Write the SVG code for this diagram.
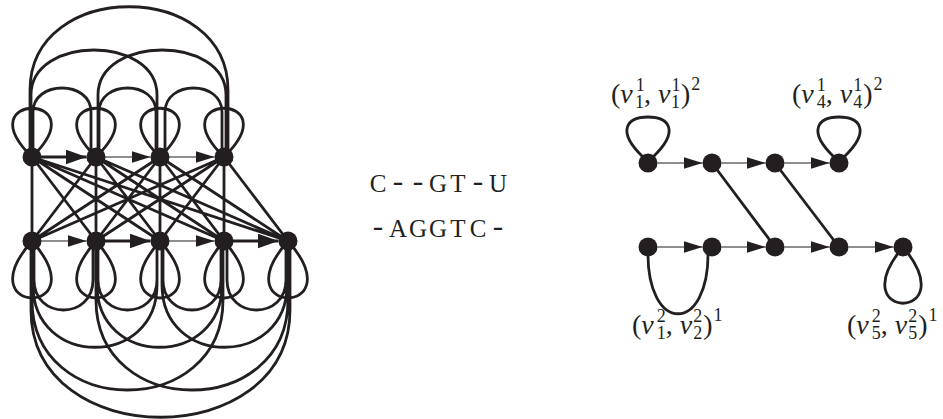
<svg xmlns="http://www.w3.org/2000/svg" width="943" height="419" viewBox="0 0 943 419">
<style>
.e{fill:none;stroke:#231f20;stroke-width:2.8}
.t{fill:none;stroke:#231f20;stroke-width:1.2}
.tk{fill:none;stroke:#231f20;stroke-width:2.8}
.n{fill:#231f20}
.m{font-family:"Liberation Serif","Times New Roman",serif;font-size:28px;fill:#231f20}
.i{font-style:italic}
.s{font-size:18px}
.seq{font-family:"Liberation Serif","Times New Roman",serif;font-size:25px;fill:#231f20;text-anchor:middle}
.d{font-family:"Liberation Mono","Courier New",monospace;font-size:30px}
</style>
<defs>
<marker id="ah" markerUnits="userSpaceOnUse" markerWidth="20" markerHeight="13" refX="19" refY="6" orient="auto"><path d="M0,0 L19,6 L0,12 z" fill="#231f20"/></marker>
<marker id="ahb" markerUnits="userSpaceOnUse" markerWidth="23" markerHeight="16" refX="21" refY="7.5" orient="auto"><path d="M0,0 L21,7.5 L0,15 z" fill="#231f20"/></marker>
</defs>
<g id="left-connectors">
<path class="e" d="M32,157 C-35,92 99,92 32,157 M96,157 C29,92 163,92 96,157 M160,157 C93,92 227,92 160,157 M224,157 C157,92 291,92 224,157"/>
<path class="e" d="M33,157 V112 C33,80 91,80 91,112 V157 M99,157 V112 C99,80 156,80 156,112 V157 M165,157 V112 C165,80 222,80 222,112 V157 M31,157 V95 C31,35 157,35 157,95 V157 M98,157 V95 C98,35 226,35 226,95 V157 M30,157 V90 C30,-21 228,-21 228,90 V157"/>
<path class="e" d="M32,157 L32,241 M32,157 L96,241 M32,157 L160,241 M32,157 L224,241 M32,157 L288,241 M96,157 L32,241 M96,157 L96,241 M96,157 L160,241 M96,157 L224,241 M96,157 L288,241 M160,157 L32,241 M160,157 L96,241 M160,157 L160,241 M160,157 L224,241 M160,157 L288,241 M224,157 L32,241 M224,157 L96,241 M224,157 L160,241 M224,157 L224,241 M224,157 L288,241"/>
<path class="e" d="M32,241 C-35,317 99,317 32,241 M96,241 C29,317 163,317 96,241 M160,241 C93,317 227,317 160,241 M224,241 C157,317 291,317 224,241 M288,241 C221,317 355,317 288,241"/>
<path class="e" d="M34,241 V280 C34,320 93,320 93,280 V241 M98,241 V280 C98,320 157,320 157,280 V241 M163,241 V280 C163,320 221,320 221,280 V241 M227,241 V280 C227,320 286,320 286,280 V241 M33,241 V285 C33,368 157,368 157,285 V241 M97,241 V285 C97,368 222,368 222,285 V241 M162,241 V285 C162,368 287,368 287,285 V241 M32,241 V300 C32,420 223,420 223,300 V241 M96,241 V300 C96,420 288,420 288,300 V241 M31,241 V310 C31,453 290,453 290,310 V241"/>
<path class="tk" d="M41,157 H86.5" marker-end="url(#ahb)"/>
<path class="t" d="M105,157 H150.5" marker-end="url(#ah)"/>
<path class="t" d="M169,157 H214.5" marker-end="url(#ah)"/>
<path class="t" d="M41,241 H86.5" marker-end="url(#ah)"/>
<path class="tk" d="M105,241 H150.5" marker-end="url(#ahb)"/>
<path class="t" d="M169,241 H214.5" marker-end="url(#ah)"/>
<path class="tk" d="M233,241 H278.5" marker-end="url(#ahb)"/>
</g>
<g id="left-nodes">
<circle id="lt1" class="n" cx="32" cy="157" r="9.5"/>
<circle id="lt2" class="n" cx="96" cy="157" r="9.5"/>
<circle id="lt3" class="n" cx="160" cy="157" r="9.5"/>
<circle id="lt4" class="n" cx="224" cy="157" r="9.5"/>
<circle id="lb1" class="n" cx="32" cy="241" r="9.5"/>
<circle id="lb2" class="n" cx="96" cy="241" r="9.5"/>
<circle id="lb3" class="n" cx="160" cy="241" r="9.5"/>
<circle id="lb4" class="n" cx="224" cy="241" r="9.5"/>
<circle id="lb5" class="n" cx="288" cy="241" r="9.5"/>
</g>
<g id="alignment">
<text class="seq" x="378 398 418 438 458 478 498" y="192">C<tspan class="d">--</tspan>GT<tspan class="d">-</tspan>U</text>
<text class="seq" x="378 398 418 438 458 478 498" y="237"><tspan class="d">-</tspan>AGGTC<tspan class="d">-</tspan></text>
</g>
<g id="right-connectors">
<path class="t" d="M657.5,163 H702.5" marker-end="url(#ah)"/>
<path class="t" d="M721.5,163 H765.5" marker-end="url(#ah)"/>
<path class="t" d="M784.5,163 H829.5" marker-end="url(#ah)"/>
<path class="t" d="M657.5,247 H702.5" marker-end="url(#ah)"/>
<path class="t" d="M721.5,247 H765.5" marker-end="url(#ah)"/>
<path class="t" d="M784.5,247 H829.5" marker-end="url(#ah)"/>
<path class="t" d="M848.5,247 H893.5" marker-end="url(#ah)"/>
<path class="e" d="M712,163 L775,247 M775,163 L839,247"/>
<path class="e" d="M643,157 C615,130 628,117 648,117 C668,117 681,130 653,157"/>
<path class="e" d="M834,157 C806,130 819,117 839,117 C859,117 872,130 844,157"/>
<path class="e" d="M648,250 C646,335 710,335 708,250"/>
<path class="e" d="M903,247 C840,322 966,322 903,247"/>
</g>
<g id="right-nodes">
<circle id="rt1" class="n" cx="648" cy="163" r="9.5"/>
<circle id="rt2" class="n" cx="712" cy="163" r="9.5"/>
<circle id="rt3" class="n" cx="775" cy="163" r="9.5"/>
<circle id="rt4" class="n" cx="839" cy="163" r="9.5"/>
<circle id="rb1" class="n" cx="648" cy="247" r="9.5"/>
<circle id="rb2" class="n" cx="712" cy="247" r="9.5"/>
<circle id="rb3" class="n" cx="775" cy="247" r="9.5"/>
<circle id="rb4" class="n" cx="839" cy="247" r="9.5"/>
<circle id="rb5" class="n" cx="903" cy="247" r="9.5"/>
</g>
<g id="labels">
<text class="m" x="611" y="103">(<tspan class="i">v</tspan><tspan class="s" dx="3" dy="-12">1</tspan><tspan class="s" dx="-9" dy="17">1</tspan><tspan dy="-5">, </tspan><tspan class="i">v</tspan><tspan class="s" dx="1" dy="-12">1</tspan><tspan class="s" dx="-9" dy="17">1</tspan><tspan dx="1" dy="-5">)</tspan><tspan class="s" dx="1" dy="-13">2</tspan></text>
<text class="m" x="792" y="103">(<tspan class="i">v</tspan><tspan class="s" dx="3" dy="-12">1</tspan><tspan class="s" dx="-9" dy="17">4</tspan><tspan dy="-5">, </tspan><tspan class="i">v</tspan><tspan class="s" dx="1" dy="-12">1</tspan><tspan class="s" dx="-9" dy="17">4</tspan><tspan dx="1" dy="-5">)</tspan><tspan class="s" dx="1" dy="-13">2</tspan></text>
<text class="m" x="632" y="334">(<tspan class="i">v</tspan><tspan class="s" dx="3" dy="-12">2</tspan><tspan class="s" dx="-9" dy="17">1</tspan><tspan dy="-5">, </tspan><tspan class="i">v</tspan><tspan class="s" dx="1" dy="-12">2</tspan><tspan class="s" dx="-9" dy="17">2</tspan><tspan dx="1" dy="-5">)</tspan><tspan class="s" dx="1" dy="-13">1</tspan></text>
<text class="m" x="847" y="334">(<tspan class="i">v</tspan><tspan class="s" dx="3" dy="-12">2</tspan><tspan class="s" dx="-9" dy="17">5</tspan><tspan dy="-5">, </tspan><tspan class="i">v</tspan><tspan class="s" dx="1" dy="-12">2</tspan><tspan class="s" dx="-9" dy="17">5</tspan><tspan dx="1" dy="-5">)</tspan><tspan class="s" dx="1" dy="-13">1</tspan></text>
</g>
</svg>
